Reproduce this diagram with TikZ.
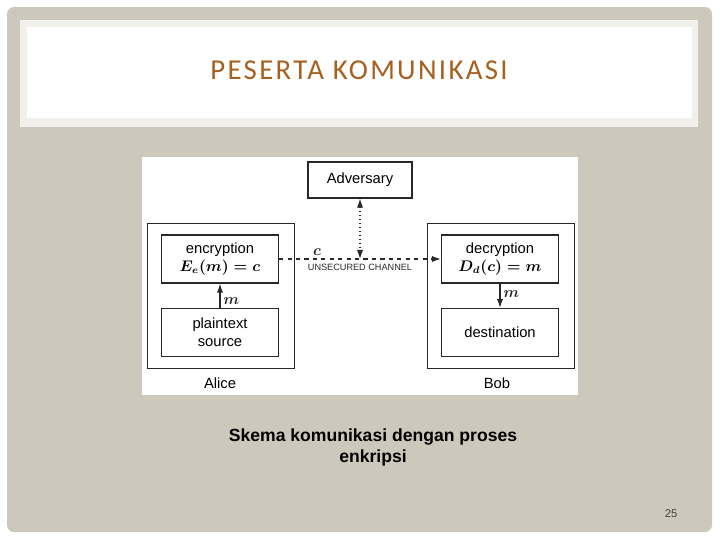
\documentclass[tikz,border=0pt]{standalone}
\usepackage{fontspec}
\setmainfont{Liberation Sans}
\newfontfamily\titlefont[LetterSpace=8]{Carlito}
\usepackage{xcolor}
\usetikzlibrary{positioning,arrows.meta}

\definecolor{slidegray}{RGB}{204,200,188}
\definecolor{bandgray}{RGB}{242,240,235}
\definecolor{titlebrown}{RGB}{168,96,30}
\definecolor{linegray}{RGB}{40,40,40}

\newcommand{\diafont}{\fontsize{10.5}{13}\selectfont\boldmath}

\begin{document}
\begin{tikzpicture}[
		x=0.025cm, y=-0.025cm,
		box/.style={
			draw=linegray,
			line width=0.8pt,
			align=center,
			minimum width=2.925cm,
			minimum height=1.2cm,
			inner sep=1pt,
			font=\diafont
		},
		party/.style={draw=linegray, line width=0.6pt, minimum width=3.675cm, minimum height=3.625cm},
		tag/.style={font=\diafont, inner sep=1pt},
		arrow/.style={-{Latex[length=6.5pt,width=4.5pt]}, line width=0.9pt, linegray}
		]
		
		% slide background
		\useasboundingbox (0,0) rectangle (720,540);
		\fill[white] (0,0) rectangle (720,540);
		\fill[slidegray, rounded corners=5pt] (7,7) rectangle (712,532);
		\fill[bandgray] (20,20) rectangle (698,127);
		\fill[white] (27,27) rectangle (692,118);
		\fill[white] (142,157) rectangle (578,395);
		
		\node[font=\titlefont\fontsize{20.5}{24}\selectfont, text=titlebrown] (title) at (359,70) {PESERTA KOMUNIKASI};
		
		% Alice and Bob
		\node[party] (alice) at (220.5,295.5) {};
		\node[party] (bob) at (500.5,295.5) {};
		\node[tag] (alicename) at (220,383) {Alice};
		\node[tag] (bobname) at (497,383) {Bob};
		
		\node[box] (enc) at (220,259) {encryption\\$E_e(m)=c$};
		\node[box] (src) at (220,332.5) {plaintext\\source};
		\node[box] (dec) at (500,259) {decryption\\$D_d(c)=m$};
		\node[box] (dst) at (500,332.5) {destination};
		
		\node[box, minimum width=2.6cm, minimum height=0.9cm] (adv) at (360,180) {Adversary};
		\coordinate (tap) at (360,259);
		
		\draw[arrow] (src) -- node[tag, right=1pt, pos=0.3] {$m$} (enc);
		\draw[arrow] (dec) -- node[tag, right=1pt, pos=0.45] {$m$} (dst);
		
		\draw[arrow, dashed] (enc) -- node[tag, pos=0.235, above=1pt] {$c$}
			node[pos=0.5, below=3pt, font=\fontsize{6.5}{8}\selectfont, inner sep=0pt] (chan) {UNSECURED CHANNEL} (dec);
		\draw[{Latex[length=6.5pt,width=4.5pt]}-{Latex[length=6.5pt,width=4.5pt]}, dotted, line width=0.8pt, linegray] (adv) -- (tap);
		
		\node[font=\bfseries\fontsize{12.5}{15}\selectfont, align=center] (caption) at (373,447) {Skema komunikasi dengan proses\\enkripsi};
		\node[font=\fontsize{8}{10}\selectfont, text=black!75] (page) at (671,514) {25};
		
	\end{tikzpicture}
\end{document}
